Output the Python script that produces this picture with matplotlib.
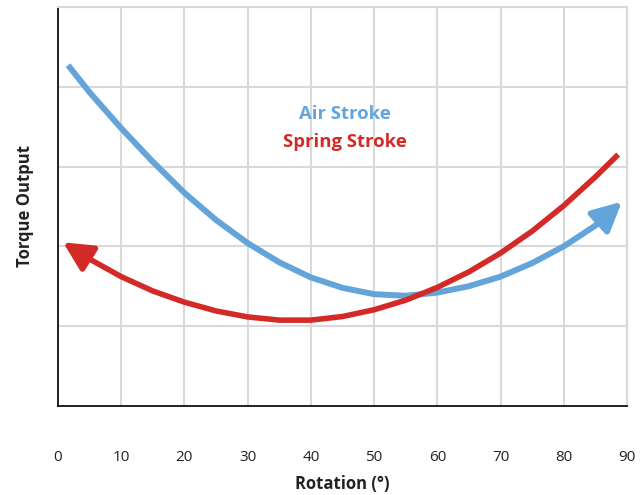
import matplotlib
matplotlib.use("Agg")
import matplotlib.pyplot as plt

# values (torque in grid units, rotation in degrees)
air_x = [1.6, 5, 10, 15, 20, 25, 30, 35, 40, 45, 50, 55, 60, 65, 70, 75, 80, 85, 89.2]
air_y = [4.27, 3.93, 3.48, 3.06, 2.67, 2.33, 2.04, 1.80, 1.61, 1.48, 1.40, 1.38, 1.42, 1.50, 1.62, 1.79, 2.00, 2.26, 2.56]

spring_x = [0.8, 5, 10, 15, 20, 25, 30, 35, 40, 45, 50, 55, 60, 65, 70, 75, 80, 85, 88.6]
spring_y = [2.05, 1.84, 1.62, 1.44, 1.30, 1.19, 1.115, 1.075, 1.075, 1.12, 1.205, 1.325, 1.485, 1.68, 1.915, 2.19, 2.51, 2.87, 3.15]

x_ticks = [0, 10, 20, 30, 40, 50, 60, 70, 80, 90]

blue = '#63A5DA'
red = '#D32A27'
grid_c = '#D9D9D9'

plt.rcParams['font.family'] = ['Open Sans', 'DejaVu Sans']

fig = plt.figure(figsize=(6.44, 4.95), dpi=100)
ax = fig.add_axes([0.090, 0.180, 0.8836, 0.806])

# blue: line then arrow at the right end
ax.plot(air_x[:-1], air_y[:-1], color=blue, lw=4.3, solid_capstyle='butt',
        solid_joinstyle='round', zorder=3)
ax.annotate('', xy=(air_x[-1], air_y[-1]), xytext=(air_x[-2], air_y[-2]),
            arrowprops=dict(arrowstyle='-|>', color=blue, lw=4.3,
                            mutation_scale=44, shrinkA=0, shrinkB=0), zorder=3)

# red: line then arrow at the left end
ax.plot(spring_x[1:], spring_y[1:], color=red, lw=4.0, solid_capstyle='butt',
        solid_joinstyle='round', zorder=4)
ax.annotate('', xy=(spring_x[0], spring_y[0]), xytext=(spring_x[1], spring_y[1]),
            arrowprops=dict(arrowstyle='-|>', color=red, lw=4.0,
                            mutation_scale=44, shrinkA=0, shrinkB=0), zorder=4)

ax.text(45.3, 3.66, 'Air Stroke', color=blue, fontsize=13.3, fontweight='bold', ha='center', va='center')
ax.text(45.3, 3.31, 'Spring Stroke', color=red, fontsize=13.3, fontweight='bold', ha='center', va='center')

ax.set_xlim(0, 90)
ax.set_ylim(0, 5)
ax.set_xticks(x_ticks)
ax.set_yticks([1, 2, 3, 4, 5])
ax.set_yticklabels([])
ax.grid(True, color=grid_c, lw=1.5, zorder=0)
ax.set_axisbelow(True)
ax.tick_params(axis='both', length=0)
ax.tick_params(axis='x', pad=32, labelsize=11, labelcolor='#222222')

for s in ['top', 'right']:
    ax.spines[s].set_color(grid_c)
    ax.spines[s].set_linewidth(1.5)
for s in ['left', 'bottom']:
    ax.spines[s].set_color('#111111')
    ax.spines[s].set_linewidth(1.3)

ax.set_xlabel('Rotation (°)', fontsize=12, fontweight='bold', labelpad=7, color='#222222')
ax.set_ylabel('Torque Output', fontsize=12, fontweight='bold', labelpad=14, color='#222222')

fig.savefig('out.png', dpi=100)
